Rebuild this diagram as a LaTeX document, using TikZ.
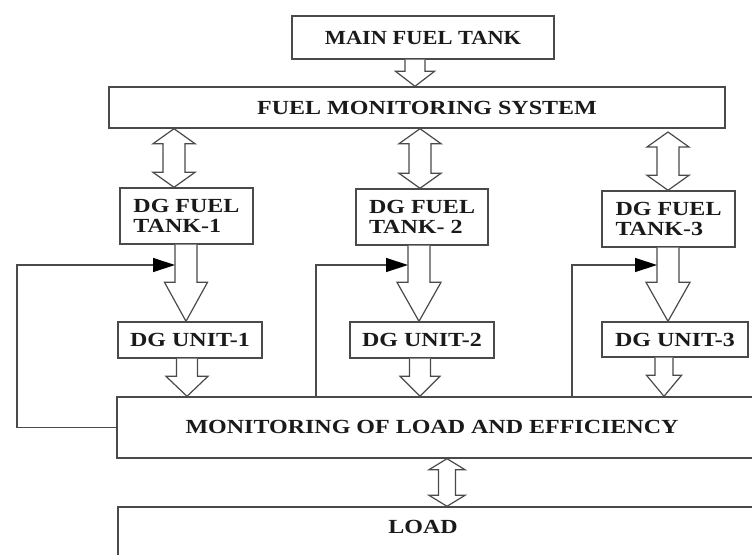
\documentclass[tikz,border=0pt]{standalone}
\usepackage{fontspec}
\setmainfont{Liberation Serif}[FakeStretch=1.2]
\newfontfamily\narrowfont{Liberation Serif}[FakeStretch=1.12]
\usetikzlibrary{arrows.meta,calc}
\definecolor{linecol}{HTML}{4A4A4A}
\definecolor{txtcol}{HTML}{1A1A1A}
\newcommand\fatdown[6]{%
  \draw[fatarr] let \p3=(#1,0), \p1=(#2), \p2=(#3) in
    (\x3-#4,\y1) -- (\x3-#4,\y2+#6) -- (\x3-#5,\y2+#6) -- (\x3,\y2)
    -- (\x3+#5,\y2+#6) -- (\x3+#4,\y2+#6) -- (\x3+#4,\y1);}
\newcommand\fatboth[6]{%
  \draw[fatarr] let \p3=(#1,0), \p1=(#2), \p2=(#3) in
    (\x3,\y1) -- (\x3-#5,\y1-#6) -- (\x3-#4,\y1-#6) -- (\x3-#4,\y2+#6)
    -- (\x3-#5,\y2+#6) -- (\x3,\y2) -- (\x3+#5,\y2+#6) -- (\x3+#4,\y2+#6)
    -- (\x3+#4,\y1-#6) -- (\x3+#5,\y1-#6) -- cycle;}
\begin{document}
\begin{tikzpicture}[x=1pt,y=-1pt,
  box/.style={draw=linecol, line width=1.4pt, fill=white, inner sep=0pt, anchor=center,
    font=\fontsize{20}{20}\selectfont\bfseries, text=txtcol},
  txt/.style={inner sep=0pt, font=\fontsize{20}{20}\selectfont\bfseries, text=txtcol},
  fatarr/.style={draw=linecol, line width=1.2pt, fill=white, line join=miter},
  fb/.style={draw=linecol, line width=1.3pt, -{Triangle[length=22pt,width=14pt,fill=black,color=black]}}]
\useasboundingbox (0,0) rectangle (752,554);
\clip (0,0) rectangle (752,554);
\fill[white] (0,0) rectangle (752,554);
% boxes
\node[box, minimum width=262pt, minimum height=43pt] (mft) at (423,37.5) {\narrowfont\bfseries MAIN FUEL TANK};
\node[box, minimum width=616pt, minimum height=41pt] (fms) at (417,107.5) {\hspace*{20pt}FUEL MONITORING SYSTEM};
\node[box, minimum width=133pt, minimum height=56pt, align=left] (t1) at (186.5,216) {DG FUEL\\TANK-1};
\node[box, minimum width=132pt, minimum height=56pt, align=left] (t2) at (422,217) {DG FUEL\\TANK- 2};
\node[box, minimum width=133pt, minimum height=56pt, align=left] (t3) at (668.5,219) {DG FUEL\\TANK-3};
\node[box, minimum width=144pt, minimum height=36pt] (u1) at (190,340) {DG UNIT-1};
\node[box, minimum width=144pt, minimum height=36pt] (u2) at (422,340) {DG UNIT-2};
\node[box, minimum width=146pt, minimum height=35pt] (u3) at (675,339.5) {DG UNIT-3};
\node[box, minimum width=660pt, minimum height=61pt] (mle) at (447,427.5) {};
\node[txt] (mlet) at (432,427) {MONITORING OF LOAD AND EFFICIENCY};
\node[box, minimum width=660pt, minimum height=70pt] (load) at (448,542) {};
\node[txt] (loadt) at (423,527) {LOAD};
% fat arrows
\fatdown{415}{mft.south}{fms.north}{10pt}{19.5pt}{15pt}
\fatboth{174}{fms.south}{t1.north}{11pt}{21pt}{15pt}
\fatboth{420}{fms.south}{t2.north}{11pt}{21pt}{15pt}
\coordinate (a3top) at (668,132);
\fatboth{668}{a3top}{t3.north}{11pt}{21pt}{15pt}
\fatdown{186}{t1.south}{u1.north}{11pt}{21.5pt}{39pt}
\fatdown{419}{t2.south}{u2.north}{11pt}{22pt}{39pt}
\fatdown{668}{t3.south}{u3.north}{11pt}{22pt}{39pt}
\fatdown{187}{u1.south}{mle.north}{10.5pt}{21pt}{20pt}
\fatdown{420}{u2.south}{mle.north}{10.5pt}{20pt}{20pt}
\fatdown{664}{u3.south}{mle.north}{9pt}{17.5pt}{21pt}
\fatboth{447}{mle.south}{load.north}{8.5pt}{18pt}{11pt}
% feedback lines
\coordinate (f1) at (175,265);
\coordinate (f2) at (408,265);
\coordinate (f3) at (657,265);
\coordinate (c1) at (17,265);
\coordinate (c2) at (316,265);
\coordinate (c3) at (572,265);
\draw[fb] (mle.west) -| (c1) -- (f1);
\draw[fb] (c2 |- mle.north) -- (c2) -- (f2);
\draw[fb] (c3 |- mle.north) -- (c3) -- (f3);
\end{tikzpicture}
\end{document}
